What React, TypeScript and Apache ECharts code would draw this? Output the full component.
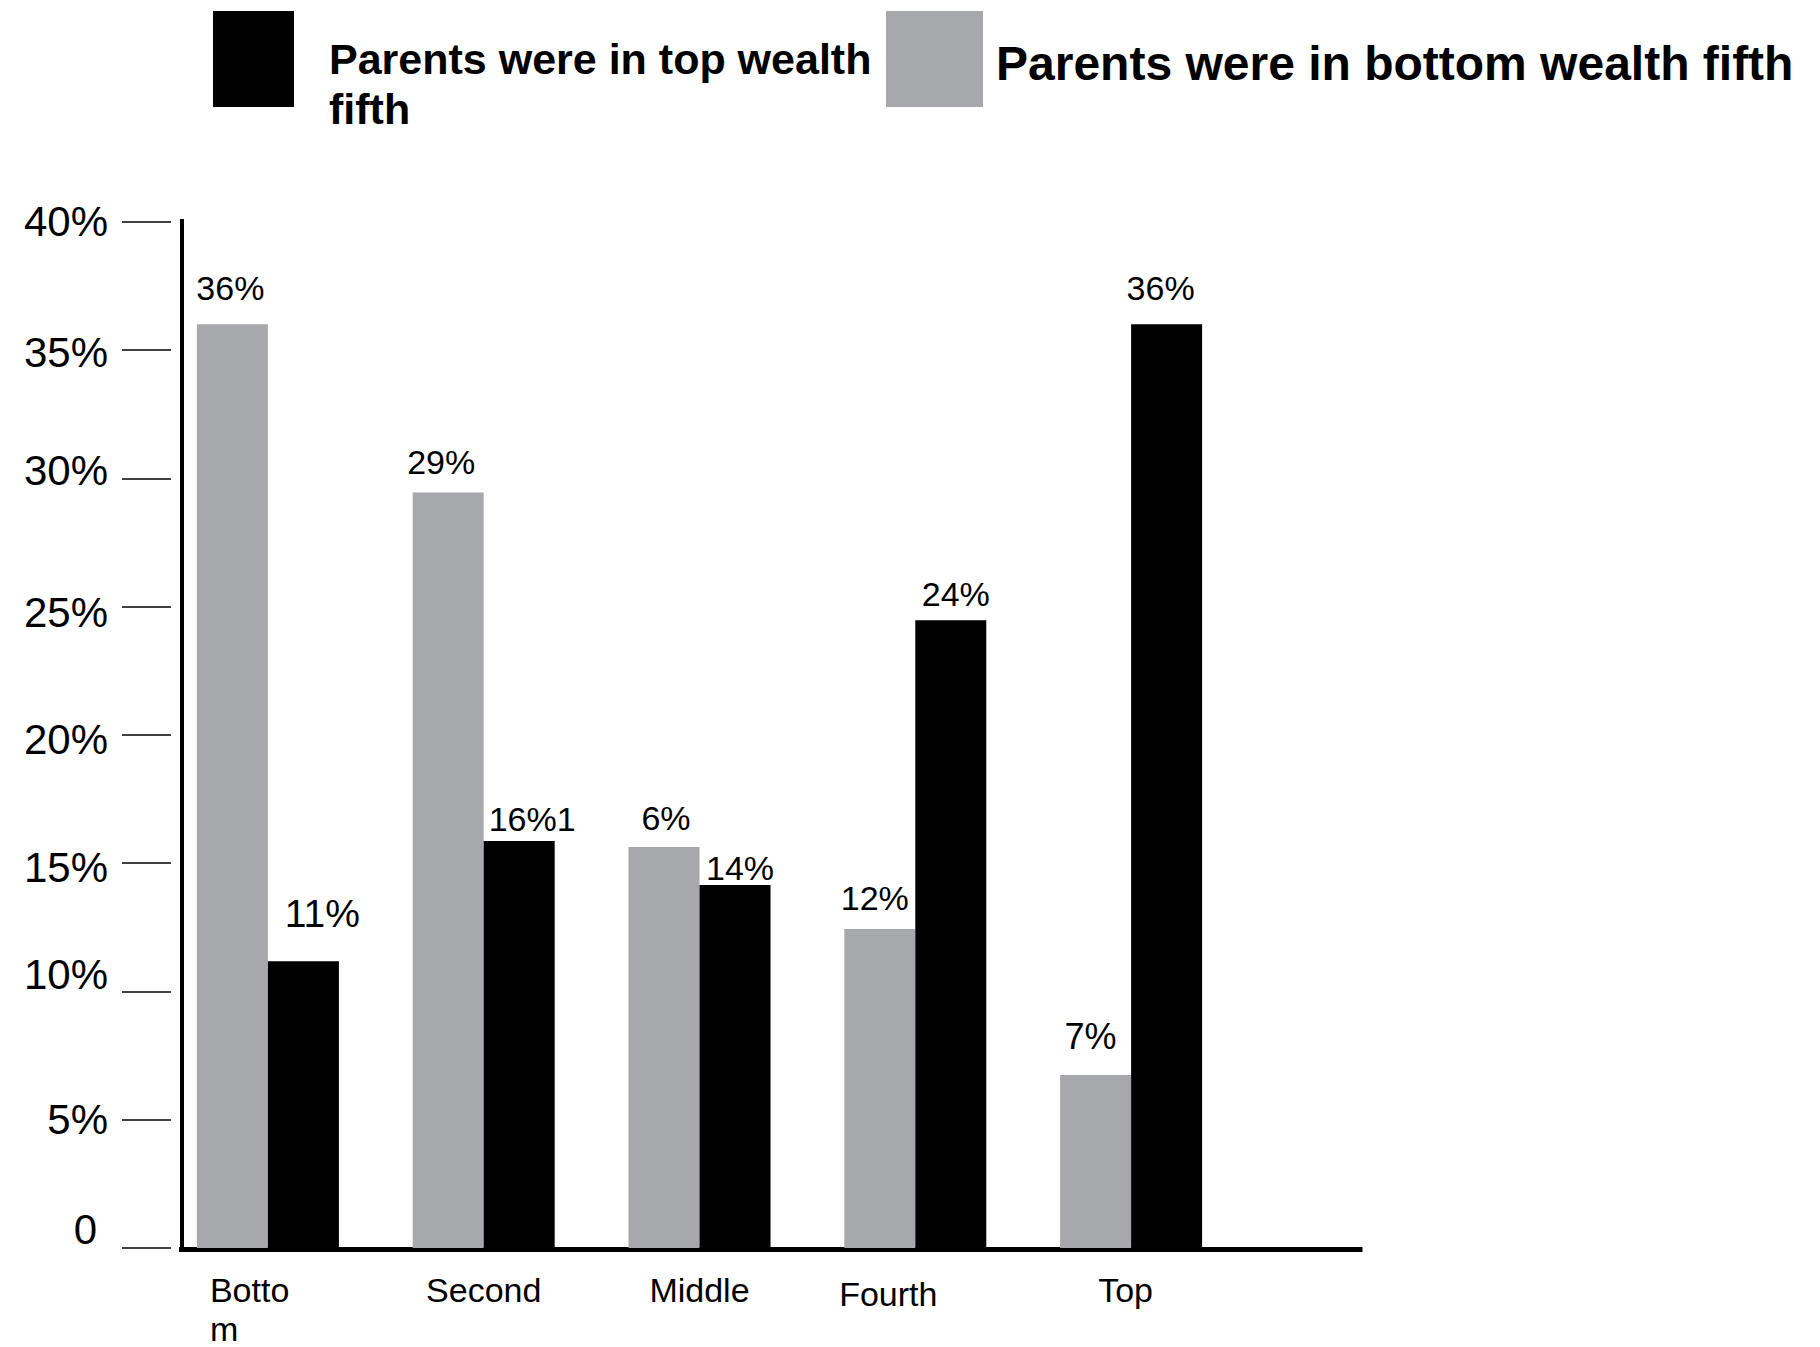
import React, { useEffect, useRef } from "react";
import * as echarts from "echarts";

// ---- data ----
const categories = ["Bottom", "Second", "Middle", "Fourth", "Top"];
const bottomFifthName = "Parents were in bottom wealth fifth";
const topFifthName = "Parents were in top wealth fifth";
const bottomFifthValues = [36.0, 29.45, 15.63, 12.43, 6.74];
const topFifthValues = [11.18, 15.86, 14.15, 24.47, 36.0];
const bottomFifthLabels = ["36%", "29%", "6%", "12%", "7%"];
const topFifthLabels = ["11%", "16%1", "14%", "24%", "36%"];
const yMin = 0;
const yMax = 40;
const yStep = 5;

// ---- styles (label placement tweaks, not data) ----
const FONT = "'Liberation Sans', Arial, Helvetica, sans-serif";
const grayLabelStyle = [
  { dx: -2, d: 19, fs: 34 },
  { dx: -7, d: 13, fs: 34 },
  { dx: 2, d: 12, fs: 34 },
  { dx: -5, d: 14, fs: 34 },
  { dx: -5, d: 21, fs: 36 },
];
const blackLabelStyle = [
  { dx: 19, d: 28, fs: 39 },
  { dx: 13, d: 5, fs: 34 },
  { dx: 5, d: 0, fs: 34 },
  { dx: 5, d: 9, fs: 34 },
  { dx: -6, d: 19, fs: 34 },
];
// vertical shift of some y tick labels (px, negative = up)
const yLabelShift: Record<number, number> = { 0: -19, 10: -17, 15: 4, 20: 5, 25: 6, 30: -8, 35: 3 };

export default function App() {
  const ref = useRef<HTMLDivElement>(null);

  useEffect(() => {
    if (!ref.current) return;
    const chart = echarts.init(ref.current, null, { renderer: "svg" });

    const yRich: Record<string, any> = {};
    Object.keys(yLabelShift).forEach((k) => {
      const s = yLabelShift[Number(k)];
      const right = Number(k) === 0 ? 11 : 0;
      yRich["s" + k] = {
        fontSize: 42,
        fontFamily: FONT,
        color: "#000",
        padding: s < 0 ? [0, right, -2 * s, 0] : [2 * s, right, 0, 0],
      };
    });

    const legendText = { fontWeight: "bold", color: "#000", fontFamily: FONT } as any;

    const option: any = {
      animation: false,
      backgroundColor: "#fff",
      legend: [
        {
          data: [topFifthName],
          left: 213,
          top: -16,
          padding: 0,
          itemWidth: 81,
          itemHeight: 96,
          icon: "rect",
          selectedMode: false,
          formatter: (n: string) => {
            const cut = n.lastIndexOf(" ");
            return " \n" + n.slice(0, cut) + "\n" + n.slice(cut + 1);
          },
          textStyle: {
            ...legendText,
            fontSize: 43,
            lineHeight: 50,
            padding: [0, 0, 0, 30],
          },
        },
        {
          data: [bottomFifthName],
          left: 886,
          top: 11,
          padding: 0,
          itemWidth: 97,
          itemHeight: 96,
          icon: "rect",
          selectedMode: false,
          formatter: (n: string) => `{c|${n}}`,
          textStyle: {
            ...legendText,
            fontSize: 48,
            rich: {
              c: { ...legendText, fontSize: 48, lineHeight: 56, padding: [8, 0, 0, 8] },
            },
          },
        },
      ],
      grid: [
        { left: 160, width: 1079, top: 221.7, bottom: 99, containLabel: false, outerBoundsMode: "none" },
        { left: 181.5, right: 460, top: 221, bottom: 97.5, containLabel: false, outerBoundsMode: "none" },
      ],
      xAxis: [
        {
          type: "category",
          gridIndex: 0,
          data: categories,
          axisLine: { show: false },
          axisTick: { show: false },
          axisLabel: {
            margin: 21,
            fontSize: 34,
            lineHeight: 42,
            color: "#000",
            fontFamily: FONT,
            interval: 0,
            formatter: (v: string) => {
              if (v === "Bottom") return "{l|Botto}\n{m|m}";
              if (v === "Fourth") return "{f|Fourth}";
              if (v === "Top") return "{t|Top}";
              return v;
            },
            rich: {
              l: { width: 116, align: "left", fontSize: 34, lineHeight: 42, fontFamily: FONT, color: "#000" },
              m: { width: 116, align: "left", fontSize: 34, lineHeight: 35, fontFamily: FONT, color: "#000" },
              f: { padding: [7, 54, 0, 0], fontSize: 34, lineHeight: 42, fontFamily: FONT, color: "#000" },
              t: { padding: [0, 11, 0, 0], fontSize: 34, lineHeight: 42, fontFamily: FONT, color: "#000" },
            },
          },
        },
        {
          type: "value",
          gridIndex: 1,
          min: 0,
          max: 1,
          axisLine: { show: true, lineStyle: { color: "#000", width: 5, cap: "square" } },
          axisTick: { show: false },
          axisLabel: { show: false },
          splitLine: { show: false },
        },
      ],
      yAxis: [
        {
          type: "value",
          gridIndex: 0,
          min: yMin,
          max: yMax,
          interval: yStep,
          offset: -11,
          axisLine: { show: false },
          axisTick: { show: true, length: 49, lineStyle: { color: "#000", width: 1.5 } },
          splitLine: { show: false },
          axisLabel: {
            margin: 63,
            fontSize: 42,
            color: "#000",
            fontFamily: FONT,
            formatter: (v: number) => {
              const text = v === 0 ? "0" : v + "%";
              return yLabelShift[v] !== undefined ? `{s${v}|${text}}` : text;
            },
            rich: yRich,
          },
        },
        {
          type: "value",
          gridIndex: 1,
          min: 0,
          max: 1,
          axisLine: { show: true, lineStyle: { color: "#000", width: 4, cap: "square" } },
          axisTick: { show: false },
          axisLabel: { show: false },
          splitLine: { show: false },
        },
      ],
      series: [
        {
          name: bottomFifthName,
          type: "bar",
          xAxisIndex: 0,
          yAxisIndex: 0,
          barWidth: 71,
          barGap: "0%",
          itemStyle: { color: "#a7a8ab" },
          label: { show: true, position: "top", color: "#000", fontFamily: FONT },
          data: bottomFifthValues.map((v, i) => ({
            value: v,
            label: {
              formatter: bottomFifthLabels[i],
              offset: [grayLabelStyle[i].dx, 0],
              distance: grayLabelStyle[i].d,
              fontSize: grayLabelStyle[i].fs,
            },
          })),
        },
        {
          name: topFifthName,
          type: "bar",
          xAxisIndex: 0,
          yAxisIndex: 0,
          barWidth: 71,
          barGap: "0%",
          itemStyle: { color: "#000000" },
          label: { show: true, position: "top", color: "#000", fontFamily: FONT },
          data: topFifthValues.map((v, i) => ({
            value: v,
            label: {
              formatter: topFifthLabels[i],
              offset: [blackLabelStyle[i].dx, 0],
              distance: blackLabelStyle[i].d,
              fontSize: blackLabelStyle[i].fs,
            },
          })),
        },
      ],
    };

    chart.setOption(option);
    return () => chart.dispose();
  }, []);

  return (
    <div
      ref={ref}
      style={{ position: "absolute", left: 0, top: 0, width: 1820, height: 1347 }}
    />
  );
}
